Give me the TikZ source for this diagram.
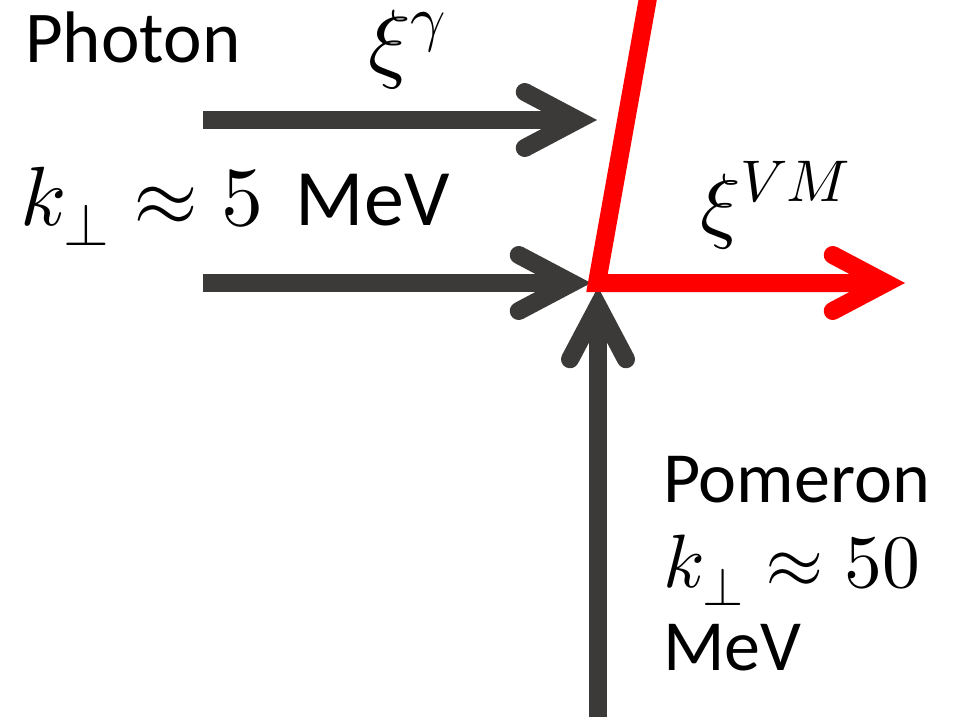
\documentclass[tikz,border=0pt]{standalone}
\usepackage{fontspec}
\usepackage{unicode-math}
\setmainfont{Carlito}
\setmathfont{Latin Modern Math}[Scale=1.05]
\usetikzlibrary{arrows.meta}
\definecolor{dgray}{RGB}{59,58,56}
\definecolor{vred}{RGB}{255,0,0}
\begin{document}
\begin{tikzpicture}[x=1pt,y=-1pt,
  lbl/.style={inner sep=0pt, anchor=base west, font=\fontsize{72}{80}\selectfont},
  big/.style={font=\fontsize{80}{88}\selectfont},
  barb/.style={-{Straight Barb[length=53pt, width=56pt, line cap=round, line join=miter]}},
  garrow/.style={draw=dgray, line width=18pt, barb},
  rarrow/.style={draw=vred, line width=18pt, line join=miter, barb},
]
\useasboundingbox (0,0) rectangle (956,717);
\clip (0,0) rectangle (956,717);
% coordinates
\coordinate (ua) at (203,120);
\coordinate (ub) at (597,120);
\coordinate (la) at (203,283);
\coordinate (lb) at (591,283);
\coordinate (va) at (598,730);
\coordinate (vb) at (598,287);
\coordinate (rtop) at (653,-30);
\coordinate (rc) at (597,283);
\coordinate (rend) at (905,283);
% arrows
\draw[garrow] (ua) -- (ub);
\draw[garrow] (la) -- (lb);
\draw[garrow] (va) -- (vb);
\draw[rarrow] (rtop) -- (rc) -- (rend);
% labels
\node[lbl, font=\fontsize{73}{80}\selectfont] (photon) at (25,63) {Photon};
\node[lbl, font=\fontsize{84}{90}\selectfont] (xig) at (368,72) {$\xi^{\gamma}$};
\node[lbl, big] (kphot) at (20,225) {$k_{\perp}\approx 5$\hspace{0.4em}MeV};
\node[lbl, big] (xivm) at (700,232) {$\xi^{VM}$};
\node[lbl] (pom) at (663,502) {Pomeron};
\node[lbl] (kpom) at (663,587) {$k_{\perp}\approx 50$};
\node[lbl] (mev) at (663,670) {MeV};
\end{tikzpicture}
\end{document}
